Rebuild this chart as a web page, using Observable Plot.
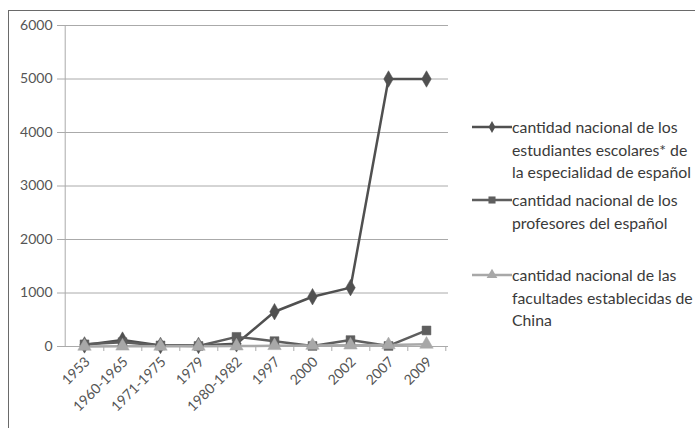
<!DOCTYPE html>
<html><head><meta charset="utf-8">
<script src="https://cdn.jsdelivr.net/npm/d3@7"></script>
<script src="https://cdn.jsdelivr.net/npm/@observablehq/plot@0.6"></script>
<style>
body{margin:0;background:#fff;}
#wrap{position:relative;width:695px;height:428px;overflow:hidden;font-family:Lato,"Open Sans",sans-serif;}
#frame{position:absolute;left:8px;top:10px;width:720px;height:440px;border:1.5px solid #6a6a6a;}
#chart{position:absolute;left:0;top:0;}
.leg{position:absolute;left:472px;font-size:15.8px;color:#3a3a3a;line-height:22.5px;}
.leg svg{position:absolute;left:0;top:4px;}
.leg div{margin-left:40px;white-space:nowrap;}
</style></head>
<body><div id="wrap"><div id="frame"></div><div id="chart"></div><div id="legend"></div></div>
<script>
const categories = ["1953","1960-1965","1971-1975","1979","1980-1982","1997","2000","2002","2007","2009"];
const students = [30, 120, 20, 20, 50, 650, 930, 1100, 5000, 5000];
const teachers = [40, 80, 20, 10, 180, 100, 10, 120, 10, 300];
const faculties = [2, 5, 3, 3, 8, 15, 20, 25, 30, 40];
const yTicks = [0, 1000, 2000, 3000, 4000, 5000, 6000];
const seriesNames = [
  "cantidad nacional de los estudiantes escolares* de la especialidad de español",
  "cantidad nacional de los profesores del español",
  "cantidad nacional de las facultades establecidas de China"
];
const legendLines = [
  ["cantidad nacional de los","estudiantes escolares* de","la especialidad de español"],
  ["cantidad nacional de los","profesores del español"],
  ["cantidad nacional de las","facultades establecidas de","China"]
];
const colors = ["#505050", "#5e5e5e", "#a8a8a8"];
const symbols = ["diamond", "square", "triangle"];

const rows = (vals, s) => categories.map((c, i) => ({cat: c, v: vals[i], s}));
const data = [...rows(students, seriesNames[0]), ...rows(teachers, seriesNames[1]), ...rows(faculties, seriesNames[2])];

const W = 695, H = 428, ml = 62, mr = 247, mt = 25, mb = 82;
const half = (W - ml - mr) / categories.length / 2;

const chart = Plot.plot({
  width: W, height: H,
  marginLeft: ml, marginRight: mr, marginTop: mt, marginBottom: mb,
  style: {fontFamily: "Lato, 'Open Sans', sans-serif", fontSize: "14px", color: "#555", background: "transparent"},
  x: {type: "point", domain: categories, padding: 0.5, label: null},
  y: {domain: [0, 6000], ticks: yTicks, label: null},
  color: {domain: seriesNames, range: colors},
  symbol: {domain: seriesNames, range: symbols},
  marks: [
    Plot.gridY(yTicks, {stroke: "#aaa", strokeOpacity: 1, strokeWidth: 1}),
    Plot.ruleX([categories[0]], {stroke: "#aaa", dx: -half}),
    Plot.axisY({ticks: yTicks, tickFormat: d3.format("d"), label: null, tickSize: 5, tickPadding: 5, stroke: "#aaa", fill: "#555", fontSize: 14}),
    Plot.ruleY([0], {stroke: "#aaa"}),
    Plot.axisX({tickSize: 5, tickFormat: () => "", label: null, stroke: "#aaa", dx: half}),
    Plot.axisX({tickSize: 0, tickRotate: -45, tickPadding: 6, label: null, dy: 7, dx: 3, fill: "#555", fontSize: 14, textAnchor: "end"}),
    Plot.line(data, {x: "cat", y: "v", z: "s", stroke: "s", strokeWidth: 2.5}),
    Plot.dot(data, {x: "cat", y: "v", symbol: "s", fill: "s", r: 5, stroke: "s", strokeWidth: 0.5})
  ]
});
document.getElementById("chart").appendChild(chart);

const legend = document.getElementById("legend");
const tops = [116, 189, 264];
legendLines.forEach((lines, i) => {
  const d = document.createElement("div");
  d.className = "leg";
  d.style.top = tops[i] + "px";
  const sym = d3.symbol(
    i === 0 ? d3.symbolDiamond : i === 1 ? d3.symbolSquare : d3.symbolTriangle,
    i === 0 ? 40 : 50)();
  d.innerHTML = `<svg width="40" height="14"><line x1="0" x2="40" y1="7" y2="7" stroke="${colors[i]}" stroke-width="2.5"/><path transform="translate(20,7)" d="${sym}" fill="${colors[i]}"/></svg>` +
    lines.map(l => `<div>${l}</div>`).join("");
  legend.appendChild(d);
});
</script></body></html>
